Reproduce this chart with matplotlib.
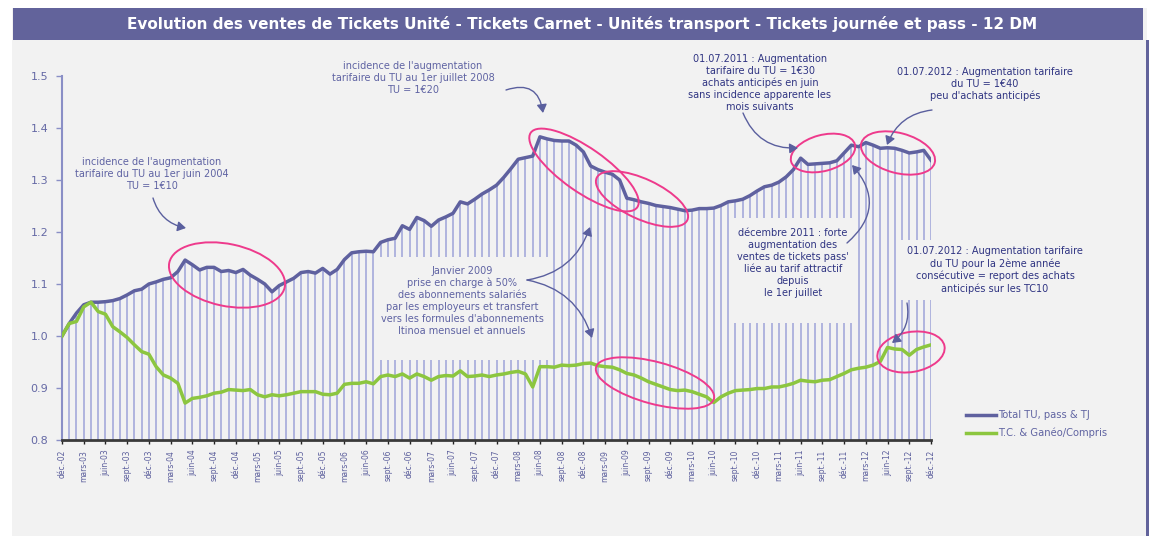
import matplotlib
matplotlib.use('Agg')
import matplotlib.pyplot as plt
from matplotlib.patches import Ellipse, Rectangle, FancyArrowPatch

W, H, DPI = 1153, 536, 100

# ---------------- data (monthly, déc-02 .. déc-12, base 1 = déc-02) ----------------
total_tu = [1.000, 1.024, 1.044, 1.060, 1.065, 1.065, 1.066, 1.068, 1.072, 1.079, 1.087, 1.090,
            1.100, 1.104, 1.109, 1.112, 1.124, 1.146, 1.137, 1.127, 1.132, 1.132, 1.124, 1.126,
            1.122, 1.128, 1.117, 1.109, 1.100, 1.085, 1.097, 1.104, 1.111, 1.122, 1.124, 1.121,
            1.130, 1.119, 1.128, 1.147, 1.160, 1.162, 1.163, 1.162, 1.180, 1.185, 1.188, 1.212,
            1.205, 1.228, 1.222, 1.211, 1.223, 1.229, 1.236, 1.258, 1.254, 1.263, 1.273, 1.281,
            1.290, 1.305, 1.322, 1.340, 1.343, 1.346, 1.383, 1.379, 1.376, 1.375, 1.375, 1.367,
            1.354, 1.327, 1.320, 1.315, 1.311, 1.300, 1.265, 1.262, 1.258, 1.255, 1.251, 1.249,
            1.247, 1.244, 1.241, 1.242, 1.245, 1.245, 1.246, 1.251, 1.258, 1.260, 1.263, 1.270,
            1.279, 1.287, 1.290, 1.296, 1.306, 1.320, 1.342, 1.330, 1.331, 1.332, 1.333, 1.337,
            1.352, 1.367, 1.364, 1.372, 1.367, 1.361, 1.362, 1.361, 1.357, 1.352, 1.354, 1.357,
            1.338]

tc_geneo = [1.000, 1.024, 1.028, 1.056, 1.065, 1.047, 1.042, 1.018, 1.008, 0.997, 0.983, 0.970,
            0.965, 0.941, 0.925, 0.919, 0.909, 0.871, 0.880, 0.882, 0.885, 0.890, 0.892, 0.897,
            0.896, 0.895, 0.897, 0.887, 0.883, 0.887, 0.885, 0.887, 0.890, 0.893, 0.893, 0.893,
            0.888, 0.887, 0.890, 0.907, 0.909, 0.909, 0.912, 0.908, 0.922, 0.925, 0.922, 0.927,
            0.919, 0.927, 0.922, 0.915, 0.922, 0.924, 0.923, 0.933, 0.922, 0.923, 0.925, 0.922,
            0.925, 0.927, 0.930, 0.932, 0.927, 0.902, 0.941, 0.941, 0.940, 0.944, 0.943, 0.944,
            0.947, 0.948, 0.943, 0.941, 0.940, 0.935, 0.928, 0.925, 0.919, 0.912, 0.907, 0.902,
            0.897, 0.895, 0.896, 0.893, 0.888, 0.883, 0.872, 0.883, 0.890, 0.895, 0.896, 0.897,
            0.899, 0.899, 0.902, 0.902, 0.905, 0.909, 0.915, 0.913, 0.912, 0.915, 0.916, 0.922,
            0.928, 0.935, 0.938, 0.940, 0.944, 0.951, 0.978, 0.975, 0.974, 0.963, 0.974, 0.979,
            0.983]

tick_labels = ['déc.-02', 'mars-03', 'juin-03', 'sept.-03', 'déc.-03', 'mars-04', 'juin-04',
               'sept.-04', 'déc.-04', 'mars-05', 'juin-05', 'sept.-05', 'déc.-05', 'mars-06',
               'juin-06', 'sept.-06', 'déc.-06', 'mars-07', 'juin-07', 'sept.-07', 'déc.-07',
               'mars-08', 'juin-08', 'sept.-08', 'déc.-08', 'mars-09', 'juin-09', 'sept.-09',
               'déc.-09', 'mars-10', 'juin-10', 'sept.-10', 'déc.-10', 'mars-11', 'juin-11',
               'sept.-11', 'déc.-11', 'mars-12', 'juin-12', 'sept.-12', 'déc.-12']
y_ticks = [0.8, 0.9, 1.0, 1.1, 1.2, 1.3, 1.4, 1.5]

series_labels = ['Total TU, pass & TJ', 'T.C. & Ganéo/Compris']
title = ('Evolution des ventes de Tickets Unité - Tickets Carnet - Unités transport - '
         'Tickets journée et pass - 12 DM')

# ---------------- styling ----------------
PURPLE = '#5f619f'
DROP = '#b0b4de'
GREEN = '#8cc63f'
PINK = '#ee3a8c'
SLATE = '#5f63a3'
NAVY = '#2f3482'
ARROW = '#5a5f9e'
BG = '#f2f2f2'

fig = plt.figure(figsize=(W / DPI, H / DPI), dpi=DPI, facecolor='white')


def inch(X, Y):
    """pixel position (from top-left) -> inches for fig.dpi_scale_trans"""
    return (X / DPI, (H - Y) / DPI)


def frac(X, Y):
    return (X / W, 1 - Y / H)


# background panel, title band, right border
fig.add_artist(Rectangle(inch(12, 536), (1147 - 12) / DPI, (536 - 8) / DPI,
                         transform=fig.dpi_scale_trans, fc=BG, ec='none', zorder=-10))
fig.add_artist(Rectangle(inch(13, 40), (1143 - 13) / DPI, 32 / DPI,
                         transform=fig.dpi_scale_trans, fc='#62639b', ec='none', zorder=-9))
fig.add_artist(Rectangle(inch(1146, 536), 2.5 / DPI, (536 - 40) / DPI,
                         transform=fig.dpi_scale_trans, fc='#62639b', ec='none', zorder=-9))
fig.text(*frac(582, 24), title, color='white', fontsize=11, fontweight='bold',
         ha='center', va='center')

# ---------------- axes ----------------
ax = fig.add_axes([62 / W, 1 - 440 / H, (931 - 62) / W, (440 - 76) / H])
ax.set_facecolor('none')
idx = list(range(len(total_tu)))

ax.vlines(idx, 0.8, total_tu, colors=DROP, linewidth=1.4, zorder=1)
l1, = ax.plot(idx, total_tu, color=PURPLE, lw=2.5, zorder=3, solid_joinstyle='round',
              label=series_labels[0])
l2, = ax.plot(idx, tc_geneo, color=GREEN, lw=2.5, zorder=3, solid_joinstyle='round',
              label=series_labels[1])

ax.set_xlim(0, len(total_tu) - 1)
ax.set_ylim(0.8, 1.5)
ax.set_yticks(y_ticks)
ax.set_yticklabels([f'{v:.1f}' for v in y_ticks])
ax.set_xticks(idx[::3])
ax.set_xticklabels(tick_labels, rotation=90, fontsize=5.5, color='#5b5e9c')
for s in ('top', 'right'):
    ax.spines[s].set_visible(False)
ax.spines['left'].set_color('#8a8fc6')
ax.spines['left'].set_linewidth(1.5)
ax.spines['bottom'].set_color('#3a3a3a')
ax.spines['bottom'].set_linewidth(2)
ax.tick_params(axis='y', colors='#8a8fc6', labelcolor='#6569a5', labelsize=8,
               length=4, width=1, pad=6)
ax.tick_params(axis='x', colors='#222222', labelcolor='#5b5e9c', length=3, width=1, pad=4)

fig.legend(handles=[l1, l2], labels=series_labels, loc='upper left',
           bbox_to_anchor=frac(966, 410), frameon=False, fontsize=7.2,
           labelcolor='#6064a2', handlelength=3.0, handletextpad=0.2,
           labelspacing=0.75, borderaxespad=0, borderpad=0)

# ---------------- annotation boxes (mask drop lines) ----------------
for (x0, y0, x1, y1) in [(378, 257, 550, 360), (730, 218, 852, 323), (900, 240, 1090, 300)]:
    fig.add_artist(Rectangle(inch(x0, y1), (x1 - x0) / DPI, (y1 - y0) / DPI,
                             transform=fig.dpi_scale_trans, fc=BG, ec='none', zorder=2))

# ---------------- texts ----------------
texts = [
    (152, 174, "incidence de l'augmentation\ntarifaire du TU au 1er juin 2004\nTU = 1€10", SLATE),
    (413, 78, "incidence de l'augmentation\ntarifaire du TU au 1er juillet 2008\nTU = 1€20", SLATE),
    (760, 83, "01.07.2011 : Augmentation\ntarifaire du TU = 1€30\nachats anticipés en juin\n"
              "sans incidence apparente les\nmois suivants", NAVY),
    (985, 84, "01.07.2012 : Augmentation tarifaire\ndu TU = 1€40\npeu d'achats anticipés", NAVY),
    (793, 263, "décembre 2011 : forte\naugmentation des\nventes de tickets pass'\n"
               "liée au tarif attractif\ndepuis\nle 1er juillet", NAVY),
    (995, 270, "01.07.2012 : Augmentation tarifaire\ndu TU pour la 2ème année\n"
               "consécutive = report des achats\nanticipés sur les TC10", NAVY),
    (462, 301, "Janvier 2009\nprise en charge à 50%\ndes abonnements salariés\n"
               "par les employeurs et transfert\nvers les formules d'abonnements\n"
               "Itinoa mensuel et annuels", SLATE),
]
for X, Y, s, c in texts:
    fig.text(*frac(X, Y), s, color=c, fontsize=7, ha='center', va='center',
             linespacing=1.25, zorder=5)

# ---------------- ellipses ----------------
ellipses = [  # centre X, Y (px), width, height (px), angle (deg)
    (227, 275, 118, 62, -12),
    (584, 170, 130, 44, -35),
    (642, 199, 100, 40, -25),
    (823, 153, 66, 36, 15),
    (898, 153, 76, 40, -15),
    (655, 383, 122, 42, -15),
    (911, 352, 68, 40, 10),
]
for X, Y, w, h, a in ellipses:
    fig.add_artist(Ellipse(inch(X, Y), w / DPI, h / DPI, angle=a, transform=fig.dpi_scale_trans,
                           fill=False, ec=PINK, lw=1.4, zorder=6))

# ---------------- arrows ----------------
arrows = [  # start (px), end (px), curvature
    ((153, 198), (186, 228), 0.3),
    ((506, 90), (543, 113), -0.6),
    ((527, 280), (590, 227), 0.3),
    ((527, 280), (592, 338), -0.3),
    ((743, 113), (798, 148), 0.35),
    ((847, 243), (852, 165), 0.5),
    ((932, 110), (887, 145), 0.3),
    ((907, 303), (892, 343), -0.3),
]
for p0, p1, rad in arrows:
    fig.add_artist(FancyArrowPatch(inch(*p0), inch(*p1), transform=fig.dpi_scale_trans,
                                   arrowstyle='-|>,head_length=5,head_width=3',
                                   connectionstyle=f'arc3,rad={rad}', color=ARROW,
                                   lw=1.0, zorder=6, shrinkA=0, shrinkB=0))

fig.savefig('out.png', dpi=DPI, facecolor='white')
